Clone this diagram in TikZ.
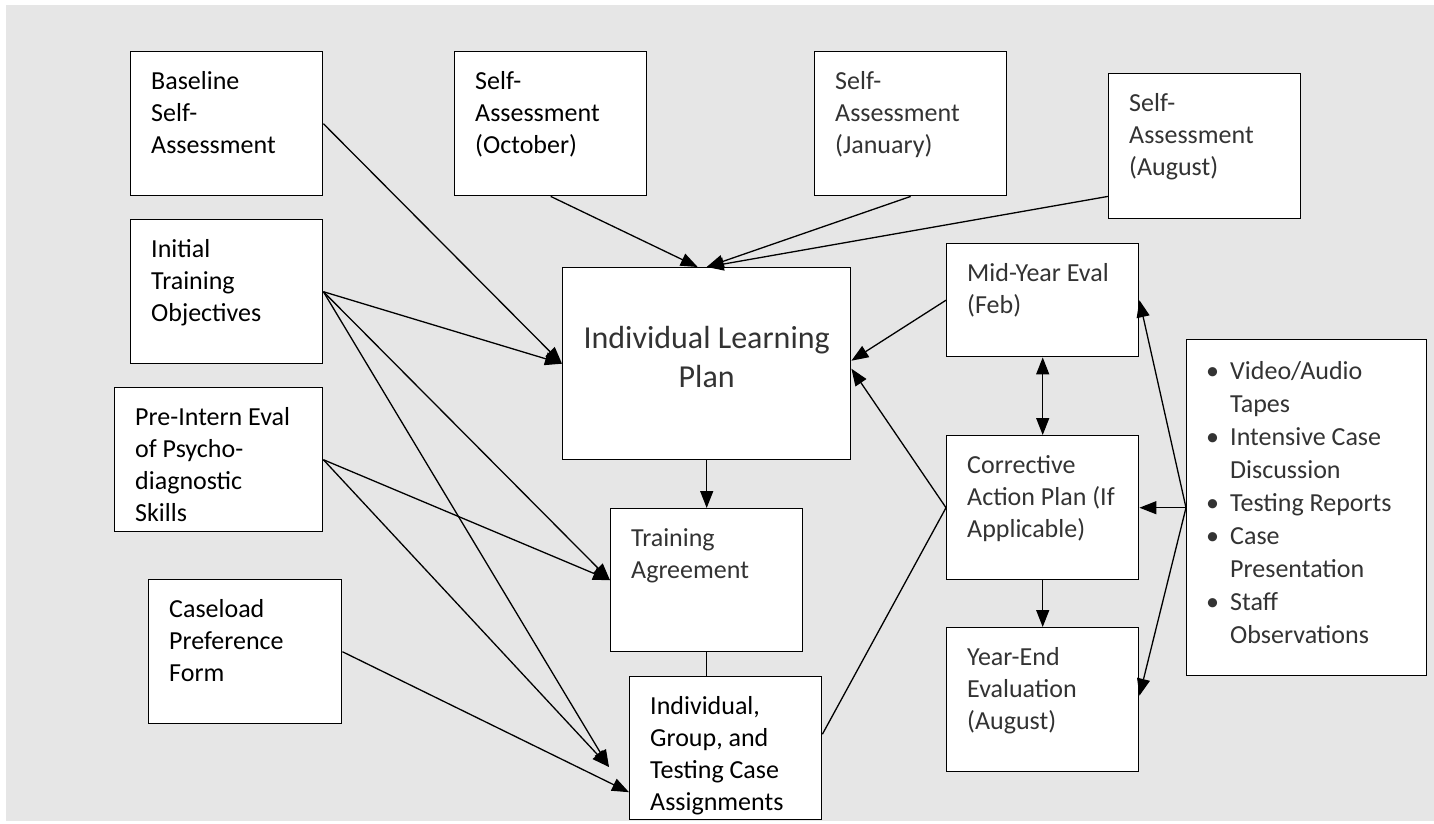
\documentclass[tikz,border=0pt]{standalone}
\usepackage{fontspec}
\setmainfont{Carlito}
\usetikzlibrary{arrows.meta}
\definecolor{bggray}{HTML}{E6E6E6}
\tikzset{
  blk/.style={draw, fill=white, line width=1.4pt, anchor=north west, inner sep=0pt,
    minimum width=192pt, minimum height=144pt},
  txt/.style={anchor=north west, align=left, inner sep=0pt, xshift=21pt, yshift=-20pt},
  lt/.style={text=black!80},
  conn/.style={line width=1.3pt}
}
\begin{document}
\begin{tikzpicture}[x=1pt, y=-1pt, font=\fontsize{26pt}{32pt}\selectfont,
    >={Triangle[length=17pt,width=13pt]}]
    \useasboundingbox (0,0) rectangle (1434,823);
    \fill[bggray] (6,5) rectangle (1434,821);
    % inputs on the left
    \node[blk, label={[txt]north west:Baseline\\Self-\\Assessment}] (base) at (130,51) {};
    \node[blk, label={[txt]north west:Initial\\Training\\Objectives}] (init) at (130,219) {};
    \node[blk, minimum width=208pt, label={[txt]north west:Pre-Intern Eval\\of Psycho-\\diagnostic\\Skills}] (pre) at (114,387) {};
    \node[blk, minimum width=193pt, label={[txt]north west:Caseload\\Preference\\Form}] (case) at (148,579) {};
    % self-assessments on top
    \node[blk, label={[txt]north west:Self-\\Assessment\\(October)}] (oct) at (454,51) {};
    \node[blk, label={[txt,lt]north west:Self-\\Assessment\\(January)}] (jan) at (814,51) {};
    \node[blk, minimum height=145pt, label={[txt,lt]north west:Self-\\Assessment\\(August)}] (aug) at (1108,73) {};
    % middle column
    \node[blk, minimum width=288pt, minimum height=192pt,
      label={[lt, anchor=north, align=center, inner sep=0pt, yshift=-59pt,
        font=\fontsize{32pt}{39pt}\selectfont]north:Individual Learning\\Plan}] (ilp) at (562,267) {};
    \node[blk, minimum height=143pt, label={[txt,lt]north west:Training\\Agreement}] (ta) at (610,508) {};
    \node[blk, minimum height=143pt, label={[txt]north west:Individual,\\Group, and\\Testing Case\\Assignments}] (iga) at (629,676) {};
    \coordinate (igain) at (609,767);
    % evaluations on the right
    \node[blk, minimum height=113pt, label={[txt,lt]north west:Mid-Year Eval\\(Feb)}] (mid) at (946,243) {};
    \node[blk, label={[txt,lt]north west:Corrective\\Action Plan (If\\Applicable)}] (cap) at (946,435) {};
    \node[blk, label={[txt,lt]north west:Year-End\\Evaluation\\(August)}] (ye) at (946,627) {};
    \node[blk, minimum width=240pt, minimum height=336pt,
      label={[txt, lt, xshift=-1pt, yshift=-2pt, font=\fontsize{26pt}{33pt}\selectfont]north west:%
        \makebox[24pt][l]{\textbullet}Video/Audio\\\hspace*{24pt}Tapes\\%
        \makebox[24pt][l]{\textbullet}Intensive Case\\\hspace*{24pt}Discussion\\%
        \makebox[24pt][l]{\textbullet}Testing Reports\\%
        \makebox[24pt][l]{\textbullet}Case\\\hspace*{24pt}Presentation\\%
        \makebox[24pt][l]{\textbullet}Staff\\\hspace*{24pt}Observations}] (lst) at (1186,339) {};
    % connectors
    \draw[conn,->] (base.east) -- (ilp.west);
    \draw[conn,->] (init.east) -- (ilp.west);
    \draw[conn,->] (init.east) -- (ta.west);
    \draw[conn,->] (init.east) -- (igain);
    \draw[conn,->] (pre.east) -- (ta.west);
    \draw[conn,->] (pre.east) -- (igain);
    \draw[conn,->] (case.east) -- ([yshift=-44pt]iga.west);
    \draw[conn,->] (oct.south) -- ([xshift=-9pt]ilp.north);
    \draw[conn,->] (jan.south) -- (ilp.north);
    \draw[conn,->] ([yshift=23pt]aug.south west) -- (ilp.north);
    \draw[conn,->] (ilp.south) -- (ta.north);
    \draw[conn] (ta.south) -- (ta.south |- iga.north);
    \draw[conn,->] ([yshift=14pt]iga.east) -- (cap.west) -- ([yshift=-5pt]ilp.east);
    \draw[conn,->] (mid.west) -- ([yshift=3pt]ilp.east);
    \draw[conn,<->] (mid.south) -- (cap.north);
    \draw[conn,->] (cap.south) -- (ye.north);
    \draw[conn,->] (lst.west) -- (cap.east);
    \draw[conn,->] (lst.west) -- (mid.east);
    \draw[conn,->] (lst.west) -- ([yshift=4pt]ye.east);
\end{tikzpicture}
\end{document}
